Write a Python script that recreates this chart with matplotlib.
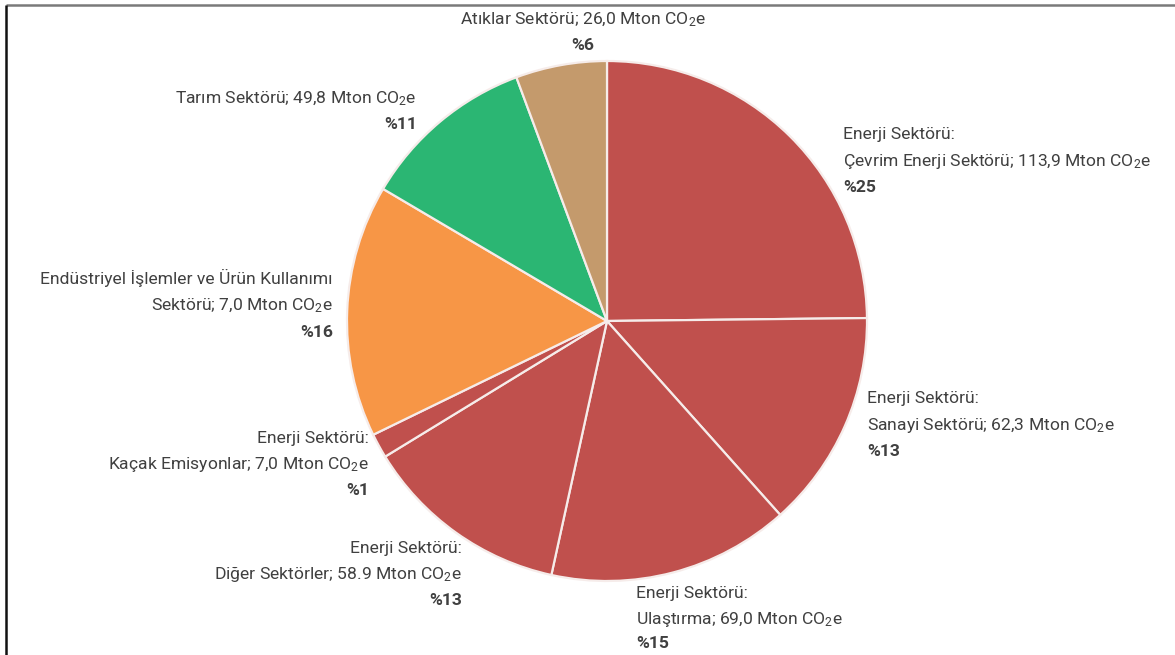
import matplotlib
matplotlib.use("Agg")
import matplotlib.pyplot as plt

plt.rcParams["font.family"] = ["Roboto", "DejaVu Sans"]
plt.rcParams["mathtext.fontset"] = "custom"
plt.rcParams["mathtext.rm"] = "Roboto"
plt.rcParams["mathtext.it"] = "Roboto:italic"
plt.rcParams["mathtext.bf"] = "Roboto:bold"

# sectors, clockwise from the top
sectors = [
    "Çevrim Enerji Sektörü", "Sanayi Sektörü", "Ulaştırma", "Diğer Sektörler",
    "Kaçak Emisyonlar", "Endüstriyel İşlemler ve Ürün Kullanımı", "Tarım Sektörü",
    "Atıklar Sektörü",
]
# slice sizes (Mton CO2e)
emissions = [113.9, 62.3, 69.0, 58.9, 7.0, 72.0, 49.8, 26.0]
# values as printed on the labels
label_values = ["113,9", "62,3", "69,0", "58.9", "7,0", "7,0", "49,8", "26,0"]
percents = [25, 13, 15, 13, 1, 16, 11, 6]
colors = ["#C0504D", "#C0504D", "#C0504D", "#C0504D", "#C0504D",
          "#F79646", "#2BB673", "#C49A6C"]

W, H = 1175, 655
fig = plt.figure(figsize=(W / 100, H / 100), dpi=100)
ax = fig.add_axes([0, 0, 1, 1])

ax.pie(emissions, colors=colors, startangle=90, counterclock=False,
       center=(607, H - 321), radius=260, frame=True,
       wedgeprops=dict(edgecolor="#f6ecea", linewidth=1.6))
ax.set_aspect("auto")
ax.set_xlim(0, W)
ax.set_ylim(0, H)
ax.axis("off")

txt_color = "#404040"
fs = 12.6


def put(x, y, s, ha, bold=False):
    ax.text(x, H - y, s, ha=ha, va="baseline", fontsize=fs, color=txt_color,
            fontweight="bold" if bold else "normal")


def co2(i, name):
    return f"{name}; {label_values[i]} Mton CO$_2$e"


# Çevrim
put(843, 139, "Enerji Sektörü:", "left")
put(843, 166, co2(0, sectors[0]), "left")
put(843, 192, f"%{percents[0]}", "left", True)
# Sanayi
put(867, 403, "Enerji Sektörü:", "left")
put(867, 430, co2(1, sectors[1]), "left")
put(867, 456, f"%{percents[1]}", "left", True)
# Ulaştırma
put(636, 598, "Enerji Sektörü:", "left")
put(636, 624, co2(2, sectors[2]), "left")
put(636, 648, f"%{percents[2]}", "left", True)
# Diğer
put(462, 553, "Enerji Sektörü:", "right")
put(462, 579, co2(3, sectors[3]), "right")
put(462, 605, f"%{percents[3]}", "right", True)
# Kaçak
put(369, 443, "Enerji Sektörü:", "right")
put(369, 469, co2(4, sectors[4]), "right")
put(369, 495, f"%{percents[4]}", "right", True)
# Endüstriyel
put(333, 284, sectors[5], "right")
put(333, 310, f"Sektörü; {label_values[5]} Mton CO$_2$e", "right")
put(333, 337, f"%{percents[5]}", "right", True)
# Tarım
put(417, 103, co2(6, sectors[6]), "right")
put(417, 129, f"%{percents[6]}", "right", True)
# Atıklar
put(583, 24, co2(7, sectors[7]), "center")
put(583, 50, f"%{percents[7]}", "center", True)

# frame lines of the original figure
ax.plot([6, W], [H - 5, H - 5], color="#7a7a7a", linewidth=1.8, solid_capstyle="butt")
ax.plot([6, 6], [0, H - 5], color="#111111", linewidth=1.8, solid_capstyle="butt")

fig.savefig("out.png", dpi=100)
